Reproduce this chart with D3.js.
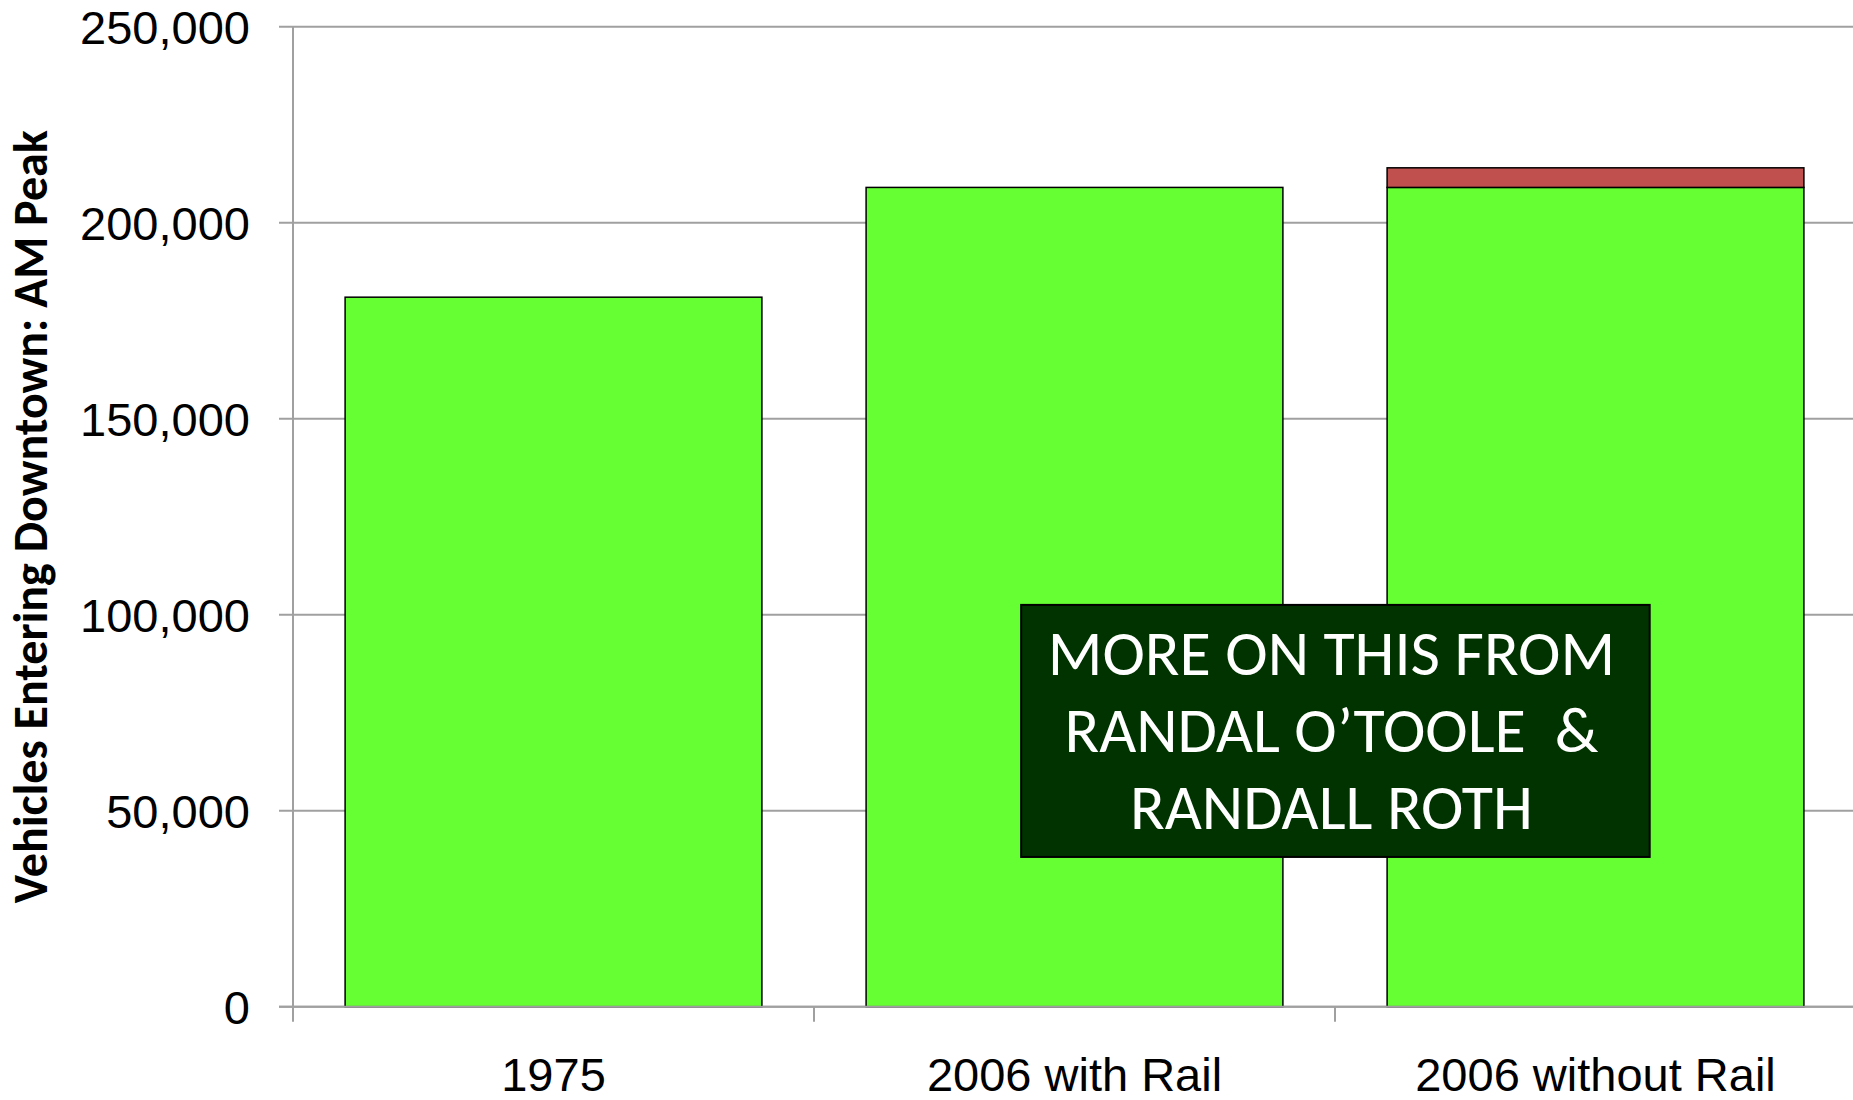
<!DOCTYPE html>
<html>
<head>
<meta charset="utf-8">
<script src="https://cdn.jsdelivr.net/npm/d3@7"></script>
<style>
  html, body { margin: 0; padding: 0; background: #fff; overflow: hidden; }
</style>
</head>
<body>
<div id="chart"></div>
<script>
// data
const categories = ['1975', '2006 with Rail', '2006 without Rail'];
const baseVehicles = [181000, 209000, 209000];
const extraVehicles = [0, 0, 5000];
const yTicks = [0, 50000, 100000, 150000, 200000, 250000];
const noteLines = ['MORE ON THIS FROM', 'RANDAL O\u2019TOOLE  &', 'RANDALL ROTH'];

const W = 1853, H = 1100;
const margin = { top: 26.7, left: 293, bottom: 93.3 };
const plotW = 1563; // runs past the right edge like the original
const plotH = H - margin.top - margin.bottom;

const svg = d3.select('#chart').append('svg')
  .attr('width', W)
  .attr('height', H);

const x = d3.scaleBand()
  .domain(categories)
  .range([margin.left, margin.left + plotW])
  .paddingInner(0.2)
  .paddingOuter(0.1);

const y = d3.scaleLinear()
  .domain([0, 250000])
  .range([margin.top + plotH, margin.top]);

const grey = '#a0a0a0';

// gridlines + left ticks
svg.append('g')
  .selectAll('line')
  .data(yTicks)
  .enter()
  .append('line')
  .attr('x1', margin.left - 14)
  .attr('x2', W + 10)
  .attr('y1', d => y(d))
  .attr('y2', d => y(d))
  .attr('stroke', grey)
  .attr('stroke-width', 2);

// y tick labels
svg.append('g')
  .selectAll('text')
  .data(yTicks)
  .enter()
  .append('text')
  .attr('x', margin.left - 43)
  .attr('y', d => y(d))
  .attr('dy', '0.36em')
  .attr('text-anchor', 'end')
  .attr('font-family', 'Liberation Sans, Arial, sans-serif')
  .attr('font-size', 47)
  .attr('fill', '#000')
  .text(d3.format(','));

// bars
const rows = categories.map((c, i) => ({ cat: c, base: baseVehicles[i], extra: extraVehicles[i] }));

svg.append('g')
  .selectAll('rect')
  .data(rows)
  .enter()
  .append('rect')
  .attr('x', d => x(d.cat))
  .attr('width', x.bandwidth())
  .attr('y', d => y(d.base))
  .attr('height', d => y(0) - y(d.base))
  .attr('fill', '#66ff33')
  .attr('stroke', '#000')
  .attr('stroke-width', 1.5);

svg.append('g')
  .selectAll('rect')
  .data(rows.filter(d => d.extra > 0))
  .enter()
  .append('rect')
  .attr('x', d => x(d.cat))
  .attr('width', x.bandwidth())
  .attr('y', d => y(d.base + d.extra))
  .attr('height', d => y(d.base) - y(d.base + d.extra))
  .attr('fill', '#c0504d')
  .attr('stroke', '#000')
  .attr('stroke-width', 1.5);

// axes lines
svg.append('line')
  .attr('x1', margin.left).attr('x2', margin.left)
  .attr('y1', y(250000)).attr('y2', y(0) + 15)
  .attr('stroke', grey).attr('stroke-width', 2);

svg.append('line')
  .attr('x1', margin.left - 14).attr('x2', W + 10)
  .attr('y1', y(0)).attr('y2', y(0))
  .attr('stroke', grey).attr('stroke-width', 2);

// category boundary ticks
const bounds = d3.range(1, categories.length + 1).map(i => x.range()[0] + i * x.step());
svg.append('g')
  .selectAll('line')
  .data(bounds)
  .enter()
  .append('line')
  .attr('x1', d => d).attr('x2', d => d)
  .attr('y1', y(0)).attr('y2', y(0) + 15)
  .attr('stroke', grey).attr('stroke-width', 2);

// category labels
svg.append('g')
  .selectAll('text')
  .data(categories)
  .enter()
  .append('text')
  .attr('x', d => x(d) + x.bandwidth() / 2)
  .attr('y', y(0) + 84)
  .attr('text-anchor', 'middle')
  .attr('font-family', 'Liberation Sans, Arial, sans-serif')
  .attr('font-size', 47)
  .attr('fill', '#000')
  .text(d => d);

// y axis title
svg.append('text')
  .attr('transform', `translate(47,${(y(0) + y(250000)) / 2}) rotate(-90)`)
  .attr('text-anchor', 'middle')
  .attr('font-family', 'Carlito, Calibri, Lato, sans-serif')
  .attr('font-weight', 'bold')
  .attr('font-size', 48)
  .attr('fill', '#000')
  .text('Vehicles Entering Downtown: AM Peak');

// annotation box, placed in data space
const boxX0 = x(categories[1]) + x.bandwidth() * 0.372;
const boxX1 = x(categories[2]) + x.bandwidth() * 0.63;
const boxTop = y(102500), boxBot = y(38200);

svg.append('rect')
  .attr('x', boxX0)
  .attr('y', boxTop)
  .attr('width', boxX1 - boxX0)
  .attr('height', boxBot - boxTop)
  .attr('fill', '#003300')
  .attr('stroke', '#000')
  .attr('stroke-width', 2);

svg.append('g')
  .selectAll('text')
  .data(noteLines)
  .enter()
  .append('text')
  .attr('x', (boxX0 + boxX1) / 2 - 4)
  .attr('y', (d, i) => boxTop + 70 + i * 77)
  .attr('text-anchor', 'middle')
  .attr('font-family', 'Carlito, Calibri, Lato, sans-serif')
  .attr('font-size', 64)
  .attr('fill', '#fff')
  .style('white-space', 'pre')
  .text(d => d);
</script>
</body>
</html>
